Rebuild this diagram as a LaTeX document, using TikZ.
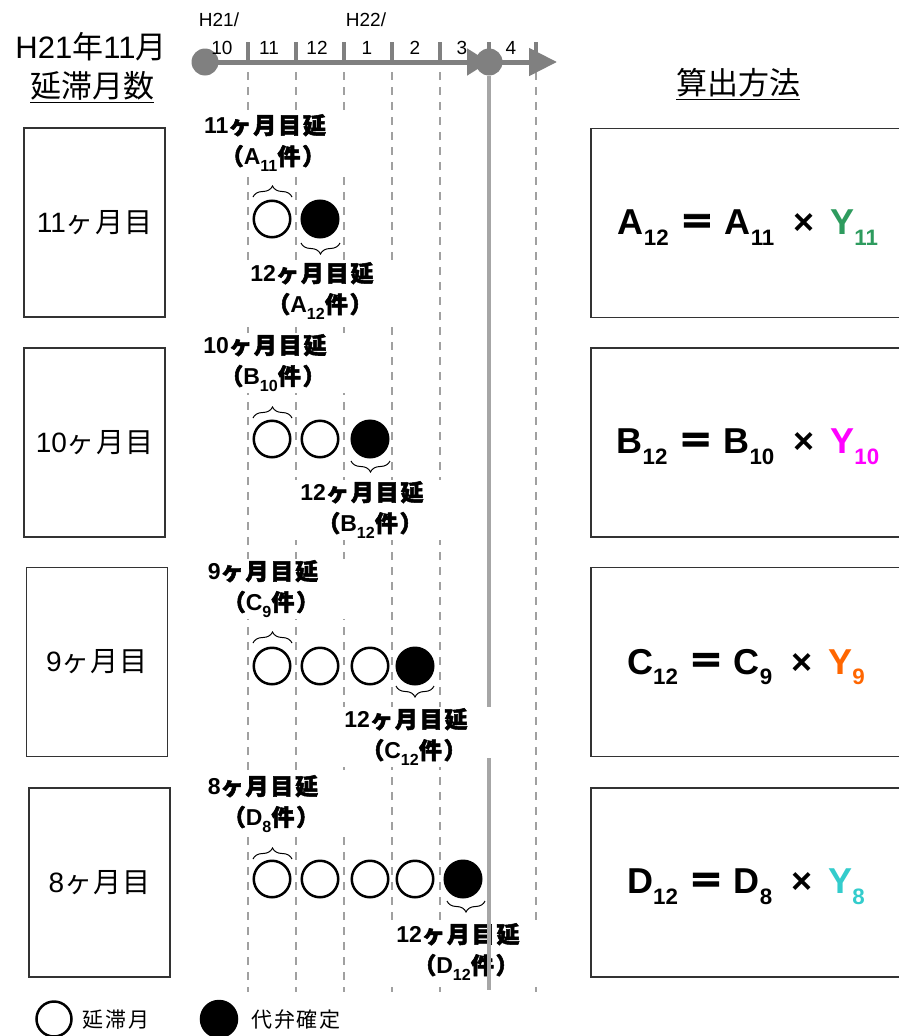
\documentclass[tikz,border=0pt]{standalone}
\usepackage{fontspec}
\setmainfont{Liberation Sans}
\newfontfamily\jp{Noto Sans CJK JP}
\newfontfamily\jpm{Noto Sans CJK JP}[LetterSpace=4]
\newfontfamily\jpb{Noto Sans CJK JP}[LetterSpace=8,FakeBold=2.2]
\newfontfamily\jpeq{Noto Sans CJK JP}[FakeBold=2.5]
\newfontfamily\jpl{Noto Sans CJK JP}[LetterSpace=8]
\usetikzlibrary{decorations.pathreplacing,arrows.meta}
\definecolor{tlgray}{RGB}{128,128,128}
\definecolor{dgray}{RGB}{160,160,160}
\definecolor{vgray}{RGB}{166,166,166}
\definecolor{ygreen}{RGB}{46,155,94}
\definecolor{ymag}{RGB}{255,0,255}
\definecolor{yorange}{RGB}{255,102,0}
\definecolor{ycyan}{RGB}{51,204,204}
\newcommand\sbs[1]{\raisebox{-0.3em}{\scalebox{0.7}{#1}}}
\newcommand\fsb[1]{\raisebox{-0.3em}{\scalebox{0.62}{#1}}}
\newcommand\eqs{\hspace{10pt}{\jpeq ＝}\hspace{10pt}}
\newcommand\tms{\hspace{19pt}×\hspace{16pt}}
\newcommand\lab[3]{#1{\jpb ヶ月目延}\\\hspace*{16pt}{\jpb （}#2\sbs{#3}{\jpb 件）}}
\begin{document}
\begin{tikzpicture}[x=1pt,y=-1pt,
  dline/.style={dgray, line width=2.5pt, dash pattern=on 8pt off 7pt},
  tick/.style={tlgray, line width=4pt},
  tlline/.style={tlgray, line width=5pt},
  tldot/.style={circle, fill=tlgray, minimum size=27pt, inner sep=0pt},
  vline/.style={vgray, line width=4pt},
  lbl/.style={fill=white, inner xsep=2pt, inner ysep=1pt, minimum width=180pt,
    font=\fontsize{23}{31}\selectfont\bfseries, align=center},
  openc/.style={circle, draw=black, line width=2.5pt, fill=white, minimum size=36.5pt, inner sep=0pt},
  fullc/.style={openc, fill=black},
  brc/.style={decorate, decoration={brace, amplitude=11pt}, line width=1pt},
  lbox/.style={draw=black!80, line width=1.3pt, minimum width=141pt, minimum height=189pt,
    font=\fontsize{28}{32}\selectfont},
  rbox/.style={draw=black!80, line width=1.3pt, minimum width=320pt, minimum height=189pt},
  frm/.style={font=\fontsize{36}{40}\selectfont\bfseries},
  mon/.style={font=\fontsize{19}{22}\selectfont},
  hdr/.style={font=\fontsize{31}{36}\selectfont},
  lgt/.style={font=\fontsize{21}{24}\selectfont},
]
\useasboundingbox (0,0) rectangle (898,1036);
% dashed month grid
\foreach \x in {248,296,344,392,440,536} \draw[dline] (\x,72) -- (\x,992);
% ticks
\foreach \x in {248,296,344,392,440,489,536} \draw[tick] (\x,42) -- (\x,62);
% timeline
\coordinate (t0) at (205,62);
\coordinate (t1) at (489,62);
\coordinate (tend) at (557,62);
\draw[tlline, -{Triangle[length=22pt,width=26pt]}] (t0) -- (t1);
\draw[tlline, -{Triangle[length=28pt,width=27pt]}] (t1) -- (tend);
\node[tldot] (d0) at (t0) {};
\node[tldot] (d1) at (t1) {};
% timeline labels
\node[mon] (h21) at (219,20) {H21/};
\node[mon] (h22) at (366,20) {H22/};
\node[mon] (m10) at (222,48) {10};
\node[mon] (m11) at (269,48) {11};
\node[mon] (m12) at (317,48) {12};
\node[mon] (m1) at (367,48) {1};
\node[mon] (m2) at (415,48) {2};
\node[mon] (m3) at (462,48) {3};
\node[mon] (m4) at (511,48) {4};
% headers
\node[hdr] (hd1) at (91,47) {H21{\jp 年}11{\jp 月}};
\node[hdr] (hd2) at (92,87) {\underline{\jp 延滞月数}};
\node[hdr] (hd3) at (738,84) {\underline{\jp 算出方法}};
% left boxes
\node[lbox] (la) at (94.5,222.5) {11{\jpm ヶ月目}};
\node[lbox] (lb) at (94.5,442.5) {10{\jpm ヶ月目}};
\node[lbox] (lc) at (97,662) {9{\jpm ヶ月目}};
\node[lbox] (ld) at (99.5,882.5) {8{\jpm ヶ月目}};
% right boxes
\node[rbox] (ra) at (751,223) {};
\node[rbox] (rb) at (751,442.5) {};
\node[rbox] (rc) at (751,662) {};
\node[rbox] (rd) at (751,882.5) {};
\node[frm] (fa) at (748,228) {A\fsb{12}\eqs A\fsb{11}\tms\textcolor{ygreen}{Y\fsb{11}}};
\node[frm] (fb) at (748,447) {B\fsb{12}\eqs B\fsb{10}\tms\textcolor{ymag}{Y\fsb{10}}};
\node[frm] (fc) at (746,667) {C\fsb{12}\eqs C\fsb{9}\tms\textcolor{yorange}{Y\fsb{9}}};
\node[frm] (fd) at (746,887) {D\fsb{12}\eqs D\fsb{8}\tms\textcolor{ycyan}{Y\fsb{8}}};
% labels
\node[lbl] (ta) at (265,143) {\lab{11}{A}{11}};
\node[lbl] (ba) at (312,291) {\lab{12}{A}{12}};
\node[lbl] (tb) at (265,363) {\lab{10}{B}{10}};
\node[lbl] (bb) at (362,510) {\lab{12}{B}{12}};
\node[lbl] (tc) at (263,589) {\lab{9}{C}{9}};
\node[lbl] (bc) at (406,737) {\lab{12}{C}{12}};
\node[lbl] (td) at (263,804) {\lab{8}{D}{8}};
\node[lbl] (bd) at (458,952) {\lab{12}{D}{12}};
% solid vertical line
\draw[vline] (d1) -- (489,707);
\draw[vline] (489,758) -- (489,990);
% circles row A
\node[openc] (a1) at (272,219) {};
\node[fullc] (a2) at (320,219) {};
% row B
\node[openc] (b1) at (272,439) {};
\node[openc] (b2) at (320,439) {};
\node[fullc] (b3) at (370,439) {};
% row C
\node[openc] (c1) at (272,666) {};
\node[openc] (c2) at (320,666) {};
\node[openc] (c3) at (370,666) {};
\node[fullc] (c4) at (415,666) {};
% row D
\node[openc] (e1) at (272,879) {};
\node[openc] (e2) at (320,879) {};
\node[openc] (e3) at (370,879) {};
\node[openc] (e4) at (415,879) {};
\node[fullc] (e5) at (463,879) {};
% braces
\draw[brc] (253,197) -- (292,197);
\draw[brc] (340,243) -- (301,243);
\draw[brc] (253,418) -- (292,418);
\draw[brc] (390,461) -- (351,461);
\draw[brc] (253,643) -- (292,643);
\draw[brc] (434,686) -- (396,686);
\draw[brc] (253,859) -- (292,859);
\draw[brc] (485,901) -- (447,901);
% legend
\node[openc, minimum size=35pt] (lg1) at (54,1019) {};
\node[lgt] (lt1) at (116,1020) {\jpl 延滞月};
\node[fullc, minimum size=36pt] (lg2) at (219,1019) {};
\node[lgt] (lt2) at (296,1020) {\jpl 代弁確定};
\end{tikzpicture}
\end{document}
